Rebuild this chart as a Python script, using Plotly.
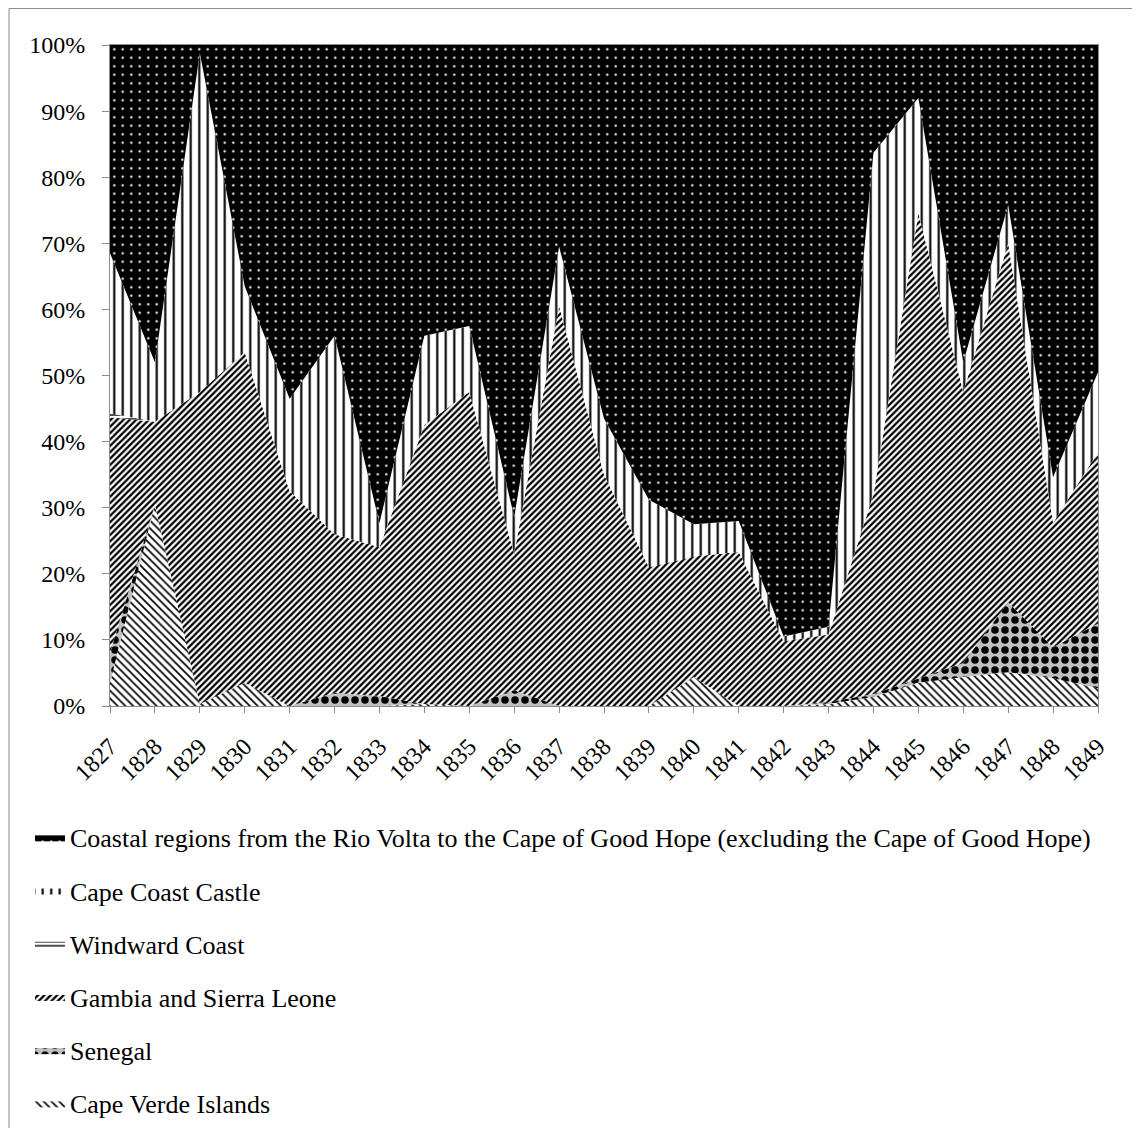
import plotly.graph_objects as go

years = list(range(1827, 1850))
year_labels = [str(y) for y in years]

cape_verde = [3.5, 30.5, 0.3, 3.5, 0, 0, 0, 0.3, 0, 0, 0, 0, 0, 4.4, 0, 0, 0.3, 1.4, 3.5, 4.4, 5.1, 4.2, 2.7]
senegal = [4.5, 0, 0, 0, 0, 2, 1.5, 0, 0, 2.4, 0, 0, 0, 0, 0, 0, 0.3, 0.4, 0.7, 2.1, 10.6, 4.7, 9.8]
gambia_sierra_leone = [35.7, 12.5, 47.2, 50, 32.5, 24, 22.5, 42.2, 47.5, 20.6, 60.5, 35, 21, 18.2, 23.3, 9.8, 10.2, 30.2, 70.4, 41, 54.3, 18.8, 25.9]
windward_coast = [0.6, 0, 0, 0, 0, 0, 0, 0, 0, 0, 0, 0, 0, 0, 0, 0, 0, 0, 0, 0, 0, 0, 0]
cape_coast_castle = [24.2, 9, 51.3, 10, 14, 30, 3.7, 13.5, 10, 5.6, 9, 8.5, 10.2, 4.9, 4.7, 0.7, 1.2, 51.7, 17.4, 4.5, 5.8, 6.9, 12.1]
coastal_volta_cape = [31.5, 48, 1.2, 36.5, 53.5, 44, 72.3, 44, 42.5, 71.4, 30.5, 56.5, 68.8, 72.5, 72, 89.5, 88, 16.3, 8, 48, 24.2, 65.4, 49.5]

names = [
    "Cape Verde Islands",
    "Senegal",
    "Gambia and Sierra Leone",
    "Windward Coast",
    "Cape Coast Castle",
    "Coastal regions from the Rio Volta to the Cape of Good Hope (excluding the Cape of Good Hope)",
]
values = [cape_verde, senegal, gambia_sierra_leone, windward_coast, cape_coast_castle, coastal_volta_cape]
patterns = [
    dict(shape="\\", bgcolor="white", fgcolor="black", size=5.5, solidity=0.3, fillmode="replace"),
    dict(shape=".", bgcolor="#c0c0c0", fgcolor="black", size=10, solidity=0.45, fillmode="replace"),
    dict(shape="/", bgcolor="white", fgcolor="black", size=4.5, solidity=0.5, fillmode="replace"),
    dict(shape="-", bgcolor="white", fgcolor="black", size=4, solidity=0.35, fillmode="replace"),
    dict(shape="|", bgcolor="white", fgcolor="black", size=8.5, solidity=0.25, fillmode="replace"),
    dict(shape=".", bgcolor="black", fgcolor="white", size=8.5, solidity=0.06, fillmode="replace"),
]

FONT = "Liberation Serif, Times New Roman, serif"
GRAY = "#8c8c8c"

fig = go.Figure()
n = len(names)
for i, (name, vals, pat) in enumerate(zip(names, values, patterns)):
    kw = dict(groupnorm="percent") if i == 0 else {}
    fig.add_trace(go.Scatter(
        x=years, y=vals, name=name, mode="lines", stackgroup="one",
        line=dict(width=0, color="black"),
        fillcolor=pat["bgcolor"], fillpattern=pat,
        legendgroup=name, legendrank=n - i, hoverinfo="x+y+name", **kw,
    ))

fig.update_layout(
    width=1132, height=1120,
    margin=dict(l=102, r=42, t=37, b=422, autoexpand=False),
    paper_bgcolor="white", plot_bgcolor="white",
    font=dict(family=FONT, color="black"),
    showlegend=True,
    legend=dict(
        orientation="v", xref="container", yref="container",
        x=0.0194, xanchor="left", y=0.2804, yanchor="top",
        traceorder="grouped", tracegroupgap=16.4,
        font=dict(family=FONT, size=26, color="black"),
        bgcolor="rgba(0,0,0,0)",
    ),
    xaxis=dict(
        range=[1827, 1849], tickvals=years, ticktext=year_labels, tickangle=-45,
        ticks="outside", ticklen=6, tickcolor=GRAY, showline=True, linecolor=GRAY,
        mirror=True, showgrid=False, zeroline=False, ticklabelstandoff=10,
        tickfont=dict(family=FONT, size=24, color="black"),
    ),
    yaxis=dict(
        range=[0, 100], dtick=10, ticksuffix="%", ticks="outside", ticklen=7,
        tickcolor=GRAY, showline=True, linecolor=GRAY, mirror=True,
        showgrid=False, zeroline=False, ticklabelstandoff=12,
        tickfont=dict(family=FONT, size=24, color="black"),
    ),
    shapes=[dict(type="rect", xref="paper", yref="paper",
                 x0=-0.1022, x1=1.0395, y0=-0.64, y1=1.0552,
                 line=dict(color=GRAY, width=1), fillcolor="rgba(0,0,0,0)", layer="above")],
)

fig.write_html("out.html")
